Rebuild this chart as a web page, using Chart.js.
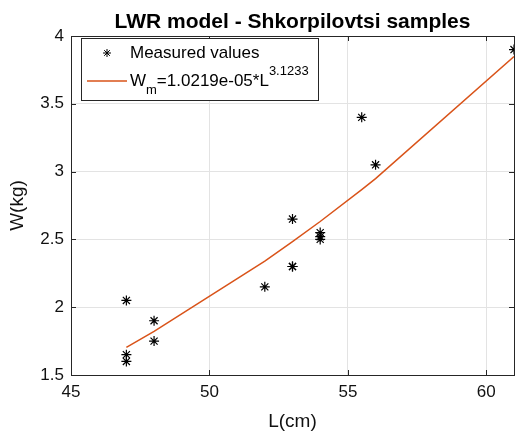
<!DOCTYPE html>
<html><head><meta charset="utf-8">
<script src="https://cdn.jsdelivr.net/npm/chart.js@4/dist/chart.umd.min.js"></script>
<style>html,body{margin:0;padding:0;background:#fff}#wrap{width:522px;height:437px;position:relative}</style>
</head><body><div id="wrap"><canvas id="c" width="522" height="437"></canvas></div>
<script>
const titleText = 'LWR model - Shkorpilovtsi samples';
const xLabel = 'L(cm)';
const yLabel = 'W(kg)';
const measuredLabel = 'Measured values';
const fitLabelParts = ['W', 'm', '=1.0219e-05*L', '3.1233'];
const measuredL = [47, 47, 47, 48, 48, 52, 53, 53, 53, 54, 54, 54, 55.5, 56, 61];
const measuredW = [2.05, 1.65, 1.6, 1.9, 1.75, 2.15, 2.65, 2.3, 2.3, 2.55, 2.52, 2.5, 3.4, 3.05, 3.9];
const fitL = [47, 48, 52, 53, 54, 55.5, 56, 61];
const fitW = [1.703, 1.822, 2.339, 2.483, 2.632, 2.867, 2.948, 3.849];
const xTicks = [45, 50, 55, 60];
const yTicks = [1.5, 2, 2.5, 3, 3.5, 4];

const FONT = 'Liberation Sans, Arial, sans-serif';
const ORANGE = '#D95319';
const DARK = '#262626';

const boxPlugin = {
  id: 'boxPlugin',
  afterDraw(chart) {
    const ctx = chart.ctx, a = chart.chartArea;
    const xs = chart.scales.x, ys = chart.scales.y;
    ctx.save();
    ctx.strokeStyle = DARK; ctx.lineWidth = 1;
    ctx.strokeRect(Math.round(a.left) + 0.5, Math.round(a.top) + 0.5, Math.round(a.right - a.left), Math.round(a.bottom - a.top));
    ctx.beginPath();
    xTicks.forEach(v => { const p = Math.round(xs.getPixelForValue(v)) + 0.5;
      ctx.moveTo(p, a.bottom); ctx.lineTo(p, a.bottom - 5); ctx.moveTo(p, a.top); ctx.lineTo(p, a.top + 5); });
    yTicks.forEach(v => { const p = Math.round(ys.getPixelForValue(v)) + 0.5;
      ctx.moveTo(a.left, p); ctx.lineTo(a.left + 5, p); ctx.moveTo(a.right, p); ctx.lineTo(a.right - 5, p); });
    ctx.stroke();
    // title
    ctx.fillStyle = '#000';
    ctx.font = 'bold 21px ' + FONT;
    ctx.textAlign = 'center'; ctx.textBaseline = 'middle';
    ctx.fillText(titleText, (a.left + a.right) / 2, 22);
    // legend
    const lx = a.left + 10, ly = a.top + 2, lw = 237, lh = 62;
    ctx.fillStyle = '#fff'; ctx.fillRect(lx, ly, lw, lh);
    ctx.strokeStyle = DARK; ctx.strokeRect(Math.round(lx) + 0.5, Math.round(ly) + 0.5, lw, lh);
    const sx = lx + 26, sy = ly + 15;
    ctx.strokeStyle = '#000'; ctx.lineWidth = 1;
    ctx.beginPath();
    const r = 4;
    ctx.moveTo(sx - r, sy); ctx.lineTo(sx + r, sy);
    ctx.moveTo(sx, sy - r); ctx.lineTo(sx, sy + r);
    const d = r * 0.7071;
    ctx.moveTo(sx - d, sy - d); ctx.lineTo(sx + d, sy + d);
    ctx.moveTo(sx - d, sy + d); ctx.lineTo(sx + d, sy - d);
    ctx.stroke();
    ctx.strokeStyle = ORANGE; ctx.lineWidth = 1.5;
    ctx.beginPath(); ctx.moveTo(lx + 6, ly + 43); ctx.lineTo(lx + 46, ly + 43); ctx.stroke();
    ctx.fillStyle = '#000'; ctx.textAlign = 'left'; ctx.textBaseline = 'middle';
    ctx.font = '17px ' + FONT;
    ctx.fillText(measuredLabel, lx + 49, sy);
    let tx = lx + 49; const ty = ly + 43;
    ctx.fillText(fitLabelParts[0], tx, ty); tx += ctx.measureText(fitLabelParts[0]).width;
    ctx.font = '13px ' + FONT; ctx.fillText(fitLabelParts[1], tx, ty + 9); tx += ctx.measureText(fitLabelParts[1]).width;
    ctx.font = '17px ' + FONT; ctx.fillText(fitLabelParts[2], tx, ty); tx += ctx.measureText(fitLabelParts[2]).width;
    ctx.font = '13px ' + FONT; ctx.fillText(fitLabelParts[3], tx, ty - 10);
    ctx.restore();
  }
};

new Chart(document.getElementById('c'), {
  type: 'scatter',
  data: {
    datasets: [
      { label: measuredLabel, data: measuredL.map((l, i) => ({ x: l, y: measuredW[i] })),
        pointStyle: 'star', radius: 5, borderColor: '#000', backgroundColor: '#000', borderWidth: 1.2, showLine: false },
      { label: 'fit', data: fitL.map((l, i) => ({ x: l, y: fitW[i] })),
        showLine: true, pointRadius: 0, borderColor: ORANGE, borderWidth: 1.5, tension: 0 }
    ]
  },
  options: {
    responsive: false, animation: false,
    layout: { padding: { top: 36, right: 8, left: 0, bottom: 0 } },
    plugins: { legend: { display: false }, title: { display: false }, tooltip: { enabled: false } },
    scales: {
      x: { type: 'linear', min: 45, max: 61,
        afterBuildTicks: s => { s.ticks = xTicks.map(v => ({ value: v })); },
        afterFit: s => { s.height = 62; },
        grid: { color: '#e3e3e3', drawTicks: false },
        border: { display: false },
        ticks: { color: '#111', font: { family: FONT, size: 17 }, padding: 7, maxRotation: 0 },
        title: { display: true, text: xLabel, color: '#111', font: { family: FONT, size: 19 }, padding: { top: 0 } } },
      y: { type: 'linear', min: 1.5, max: 4,
        afterBuildTicks: s => { s.ticks = yTicks.map(v => ({ value: v })); },
        afterFit: s => { s.width = 71; },
        grid: { color: '#e3e3e3', drawTicks: false },
        border: { display: false },
        ticks: { color: '#111', font: { family: FONT, size: 17 }, padding: 7, callback: v => String(v) },
        title: { display: true, text: yLabel, color: '#111', font: { family: FONT, size: 19 }, padding: { top: 6, bottom: 2 } } }
    }
  },
  plugins: [boxPlugin]
});
</script></body></html>
